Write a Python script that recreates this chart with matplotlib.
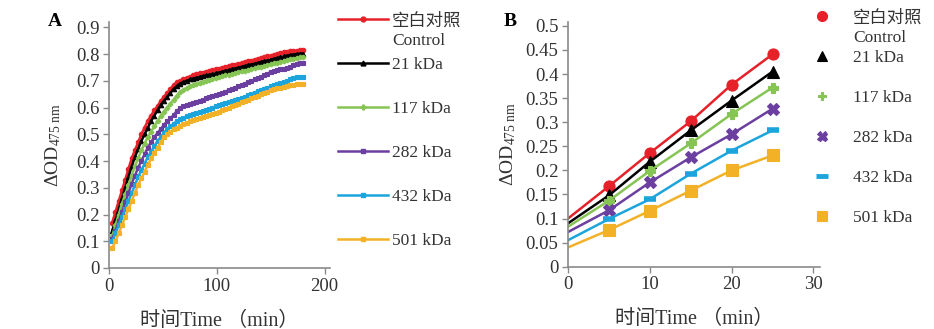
import numpy as np
import matplotlib
matplotlib.use('Agg')
import matplotlib.pyplot as plt
from matplotlib.lines import Line2D

plt.rcParams['font.family'] = ['Liberation Serif', 'Noto Sans CJK SC']
plt.rcParams['mathtext.fontset'] = 'stix'

# --- data: panel A (kinetics, every 3 min) ---
time_a = np.arange(3, 181, 3)
od_control_a = [0.17, 0.21, 0.25, 0.29, 0.33, 0.37, 0.41, 0.44, 0.47, 0.50,
                0.525, 0.55, 0.57, 0.59, 0.605, 0.625, 0.64, 0.655, 0.67, 0.685,
                0.695, 0.70, 0.705, 0.71, 0.715, 0.72, 0.725, 0.728, 0.731, 0.734,
                0.737, 0.74, 0.743, 0.746, 0.749, 0.752, 0.755, 0.758, 0.761, 0.764,
                0.767, 0.77, 0.773, 0.776, 0.779, 0.782, 0.785, 0.788, 0.791, 0.794,
                0.797, 0.80, 0.803, 0.806, 0.808, 0.81, 0.812, 0.813, 0.814, 0.815]
od_21_a = [0.14, 0.18, 0.22, 0.26, 0.30, 0.34, 0.38, 0.415, 0.445, 0.475,
           0.50, 0.525, 0.55, 0.57, 0.59, 0.61, 0.625, 0.64, 0.655, 0.67,
           0.68, 0.69, 0.695, 0.70, 0.705, 0.708, 0.711, 0.714, 0.717, 0.72,
           0.722, 0.725, 0.728, 0.731, 0.734, 0.737, 0.74, 0.743, 0.746, 0.749,
           0.752, 0.755, 0.758, 0.761, 0.764, 0.767, 0.77, 0.773, 0.776, 0.779,
           0.782, 0.785, 0.788, 0.791, 0.794, 0.796, 0.798, 0.80, 0.801, 0.802]
od_117_a = [0.12, 0.16, 0.20, 0.24, 0.275, 0.31, 0.345, 0.38, 0.41, 0.44,
            0.465, 0.49, 0.51, 0.53, 0.55, 0.57, 0.585, 0.60, 0.615, 0.63,
            0.645, 0.657, 0.667, 0.674, 0.679, 0.683, 0.687, 0.691, 0.694, 0.698,
            0.702, 0.706, 0.71, 0.714, 0.717, 0.72, 0.723, 0.726, 0.729, 0.732,
            0.735, 0.738, 0.741, 0.744, 0.747, 0.75, 0.753, 0.756, 0.759, 0.762,
            0.765, 0.768, 0.771, 0.774, 0.777, 0.78, 0.783, 0.786, 0.788, 0.79]
od_282_a = [0.11, 0.14, 0.175, 0.21, 0.245, 0.28, 0.315, 0.345, 0.375, 0.40,
            0.425, 0.45, 0.47, 0.49, 0.505, 0.52, 0.535, 0.55, 0.56, 0.572,
            0.588, 0.598, 0.604, 0.609, 0.614, 0.618, 0.622, 0.626, 0.63, 0.634,
            0.638, 0.642, 0.646, 0.65, 0.655, 0.66, 0.665, 0.67, 0.675, 0.68,
            0.685, 0.69, 0.695, 0.70, 0.705, 0.71, 0.715, 0.72, 0.727, 0.733,
            0.738, 0.741, 0.743, 0.745, 0.748, 0.752, 0.758, 0.764, 0.767, 0.768]
od_432_a = [0.10, 0.13, 0.16, 0.19, 0.22, 0.25, 0.28, 0.31, 0.34, 0.365,
            0.39, 0.415, 0.435, 0.455, 0.475, 0.49, 0.505, 0.52, 0.53, 0.54,
            0.55, 0.556, 0.562, 0.567, 0.572, 0.576, 0.58, 0.584, 0.588, 0.592,
            0.596, 0.60, 0.604, 0.608, 0.612, 0.616, 0.62, 0.624, 0.628, 0.632,
            0.636, 0.641, 0.646, 0.651, 0.656, 0.661, 0.666, 0.671, 0.675, 0.679,
            0.683, 0.687, 0.691, 0.695, 0.70, 0.705, 0.71, 0.713, 0.714, 0.714]
od_501_a = [0.075, 0.10, 0.13, 0.16, 0.19, 0.22, 0.25, 0.28, 0.31, 0.335,
            0.36, 0.385, 0.41, 0.43, 0.45, 0.47, 0.49, 0.50, 0.51, 0.518,
            0.525, 0.532, 0.538, 0.543, 0.548, 0.553, 0.557, 0.561, 0.565, 0.569,
            0.573, 0.577, 0.581, 0.585, 0.59, 0.595, 0.60, 0.605, 0.61, 0.615,
            0.62, 0.625, 0.63, 0.635, 0.64, 0.645, 0.65, 0.655, 0.66, 0.664,
            0.668, 0.672, 0.675, 0.678, 0.681, 0.684, 0.686, 0.688, 0.689, 0.69]

# --- data: panel B (initial rate, 0-25 min) ---
time_b = [0, 5, 10, 15, 20, 25]
od_control_b = [0.100, 0.167, 0.236, 0.302, 0.378, 0.441]
od_21_b = [0.090, 0.148, 0.218, 0.283, 0.345, 0.405]
od_117_b = [0.083, 0.137, 0.199, 0.256, 0.317, 0.372]
od_282_b = [0.072, 0.117, 0.175, 0.227, 0.275, 0.328]
od_432_b = [0.055, 0.099, 0.140, 0.193, 0.241, 0.283]
od_501_b = [0.040, 0.076, 0.116, 0.158, 0.200, 0.231]

labels = ['空白对照', '21 kDa', '117 kDa', '282 kDa', '432 kDa', '501 kDa']
colors = ['#e62129', '#000000', '#86c454', '#6b3fa0', '#1ba5dc', '#f2b127']

series_a = [od_control_a, od_21_a, od_117_a, od_282_a, od_432_a, od_501_a]
series_b = [od_control_b, od_21_b, od_117_b, od_282_b, od_432_b, od_501_b]
markers_a = ['o', '^', 'P', 's', 's', 's']
msize_a = [3.2, 3.2, 3.2, 3.2, 3.0, 3.2]
markers_b = ['o', '^', 'P', 'X', '_', 's']
msize_b = [8, 8, 7, 8, 9, 8]

spine_col = '#8a8a8a'
text_col = '#333333'
tick_fs = 13.5
leg_fs = 12.5


def style_axes(ax):
    for s in ['top', 'right']:
        ax.spines[s].set_visible(False)
    for s in ['left', 'bottom']:
        ax.spines[s].set_color(spine_col)
        ax.spines[s].set_linewidth(1.2)
    ax.tick_params(direction='out', length=4, width=1, color=spine_col,
                   labelsize=tick_fs, labelcolor=text_col, pad=3)


fig = plt.figure(figsize=(9.34, 3.29), dpi=100)

# Panel A
axA = fig.add_axes([109 / 934, (329 - 268) / 329, (330 - 109) / 934, (268 - 22) / 329])
for y, c, m, ms in zip(series_a, colors, markers_a, msize_a):
    axA.plot(time_a, y, color=c, lw=1.8, marker=m, ms=ms, mec=c, mfc=c, mew=0.8)
axA.set_xlim(0, 205)
axA.set_ylim(0, 0.92)
axA.set_xticks([0, 100, 200])
axA.set_yticks(np.arange(0, 0.91, 0.1))
axA.set_yticklabels(['0'] + [f'{v:.1f}' for v in np.arange(0.1, 0.91, 0.1)])
style_axes(axA)
axA.set_xlabel('时间Time （min）', fontsize=14.5, color=text_col, labelpad=12)
axA.set_ylabel('ΔOD$_{\\mathregular{475\\ nm}}$', fontsize=14, color=text_col, labelpad=9)
fig.text(55 / 934, 1 - 22 / 329, 'A', fontsize=14, fontweight='bold', va='center', ha='center')

# Panel B
axB = fig.add_axes([568 / 934, (329 - 266.7) / 329, (820 - 568) / 934, (266.7 - 22) / 329])
for y, c, m, ms in zip(series_b, colors, markers_b, msize_b):
    mew = 4 if m == '_' else 0.8
    axB.plot(time_b, y, color=c, lw=1.8, marker=m, ms=ms, mec=c, mfc=c, mew=mew,
             markevery=slice(1, None))
axB.set_xlim(0, 30.8)
axB.set_ylim(0, 0.508)
axB.set_xticks([0, 10, 20, 30])
axB.set_yticks(np.arange(0, 0.501, 0.05))
axB.set_yticklabels(['0'] + [f'{v:g}' for v in np.round(np.arange(0.05, 0.501, 0.05), 2)])
style_axes(axB)
axB.set_xlabel('时间Time （min）', fontsize=14.5, color=text_col, labelpad=12)
axB.set_ylabel('ΔOD$_{\\mathregular{475\\ nm}}$', fontsize=14, color=text_col, labelpad=5)
fig.text(510 / 934, 1 - 22 / 329, 'B', fontsize=14, fontweight='bold', va='center', ha='center')

# Legends
hA = [Line2D([], [], color=c, lw=1.8, marker=m, ms=3.5, mec=c, mfc=c)
      for c, m in zip(colors, markers_a)]
legA = fig.legend(hA, labels, loc='upper left', bbox_to_anchor=(338 / 934, 1 - 13 / 329),
                  frameon=False, fontsize=leg_fs, handlelength=2.88, handletextpad=0.23,
                  labelspacing=1.6, borderpad=0, borderaxespad=0, numpoints=1)
hB = [Line2D([], [], ls='none', color=c, marker=m, ms=ms * 0.9, mec=c, mfc=c,
             mew=(3.5 if m == '_' else 0.8))
      for c, m, ms in zip(colors, markers_b, msize_b)]
legB = fig.legend(hB, labels, loc='upper left', bbox_to_anchor=(806 / 934, 1 - 10 / 329),
                  frameon=False, fontsize=leg_fs, handlelength=1.84, handletextpad=0.86,
                  labelspacing=1.37, borderpad=0, borderaxespad=0, numpoints=1)
for leg in (legA, legB):
    for t in leg.get_texts():
        t.set_color(text_col)

# "Control" under the first legend entry
fig.canvas.draw()
inv = fig.transFigure.inverted()
for leg in (legA, legB):
    bb = leg.get_texts()[0].get_window_extent()
    x0, y0 = inv.transform((bb.x0, bb.y0))
    fig.text(x0, y0 - 4 / 329, 'Control', fontsize=leg_fs, color=text_col, va='top', ha='left')

fig.savefig('out.png', dpi=100)
